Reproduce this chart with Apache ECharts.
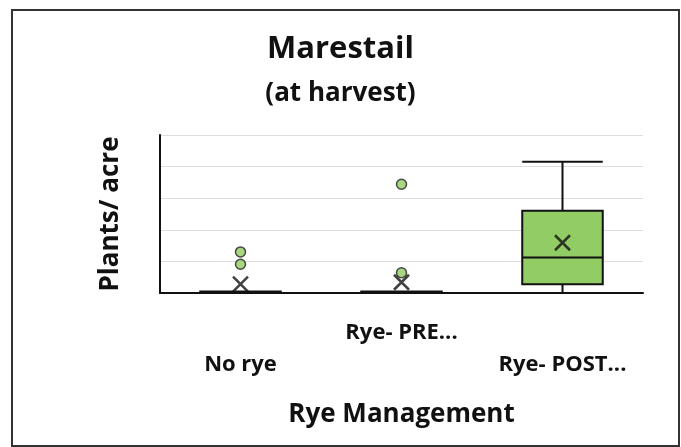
<!DOCTYPE html>
<html>
<head>
<meta charset="utf-8">
<script src="https://cdn.jsdelivr.net/npm/echarts@6/dist/echarts.min.js"></script>
<style>
  html, body { margin: 0; padding: 0; background: #fff; }
  #main { width: 681px; height: 447px; }
</style>
</head>
<body>
<div id="main"></div>
<script>
// categories and values (y axis has no tick labels, units are gridline steps)
const categories = ['No rye', 'Rye- PRE...', 'Rye- POST...']
// [min, Q1, median, Q3, max]
const boxData = [
  [0, 0, 0, 0.05, 0.05],
  [0, 0, 0, 0.05, 0.05],
  [0, 0.28, 1.12, 2.6, 4.15],
]
const outliers = [
  [0, 1.3],
  [0, 0.91],
  [1, 3.44],
  [1, 0.64],
]
const means = [0.28, 0.34, 1.59]

const font = '"Open Sans", sans-serif'
const green = '#92CC64'

var myChart = echarts.init(document.getElementById('main'))
var option = {
  backgroundColor: '#fff',
  animation: false,
  title: [
    {
      text: 'Marestail',
      left: 'center',
      top: 29,
      textStyle: { fontFamily: font, fontWeight: 'bold', fontSize: 31, color: '#111' },
    },
    {
      text: '(at harvest)',
      left: 'center',
      top: 76,
      textStyle: { fontFamily: font, fontWeight: 'bold', fontSize: 26, color: '#111' },
    },
  ],
  graphic: [
    {
      type: 'rect',
      shape: { x: 12, y: 10, width: 667, height: 436 },
      style: { fill: 'none', stroke: '#333', lineWidth: 2 },
      silent: true,
    },
  ],
  grid: {
    left: 160,
    right: 38,
    top: 135,
    bottom: 154,
  },
  xAxis: {
    type: 'category',
    data: categories,
    name: 'Rye Management',
    nameLocation: 'middle',
    nameGap: 109,
    nameTextStyle: { fontFamily: font, fontWeight: 'bold', fontSize: 26, color: '#111' },
    axisLine: { lineStyle: { color: '#111', width: 2 } },
    axisTick: { show: false },
    axisLabel: {
      interval: 0,
      margin: 24,
      fontFamily: font,
      fontWeight: 'bold',
      fontSize: 22,
      color: '#111',
      lineHeight: 32,
      formatter: function (value, index) {
        // staggered labels like the original
        return index === 1 ? value : '\n' + value
      },
    },
  },
  yAxis: {
    type: 'value',
    min: 0,
    max: 5,
    interval: 1,
    name: 'Plants/ acre',
    nameLocation: 'middle',
    nameGap: 36,
    nameTextStyle: { fontFamily: font, fontWeight: 'bold', fontSize: 26, color: '#111' },
    axisLine: { show: true, lineStyle: { color: '#111', width: 2 } },
    axisTick: { show: false },
    axisLabel: { show: false },
    splitLine: { lineStyle: { color: '#ddd', width: 1 } },
  },
  series: [
    {
      name: 'box',
      type: 'boxplot',
      data: boxData,
      boxWidth: ['50%', '50%'],
      itemStyle: {
        color: green,
        borderColor: '#111',
        borderWidth: 2,
      },
    },
    {
      name: 'outliers',
      type: 'scatter',
      data: outliers,
      symbol: 'circle',
      symbolSize: 10,
      itemStyle: { color: green, borderColor: '#222', borderWidth: 1.5 },
      z: 5,
    },
    {
      name: 'mean',
      type: 'scatter',
      data: means.map((v, i) => [i, v]),
      symbol: 'path://M0,0L10,10M10,0L0,10',
      symbolSize: 15,
      itemStyle: { color: 'none', borderColor: '#111', borderWidth: 2.5 },
      z: 6,
    },
  ],
}

option && myChart.setOption(option)
window.addEventListener('resize', function () {
  myChart.resize()
})
</script>
</body>
</html>
